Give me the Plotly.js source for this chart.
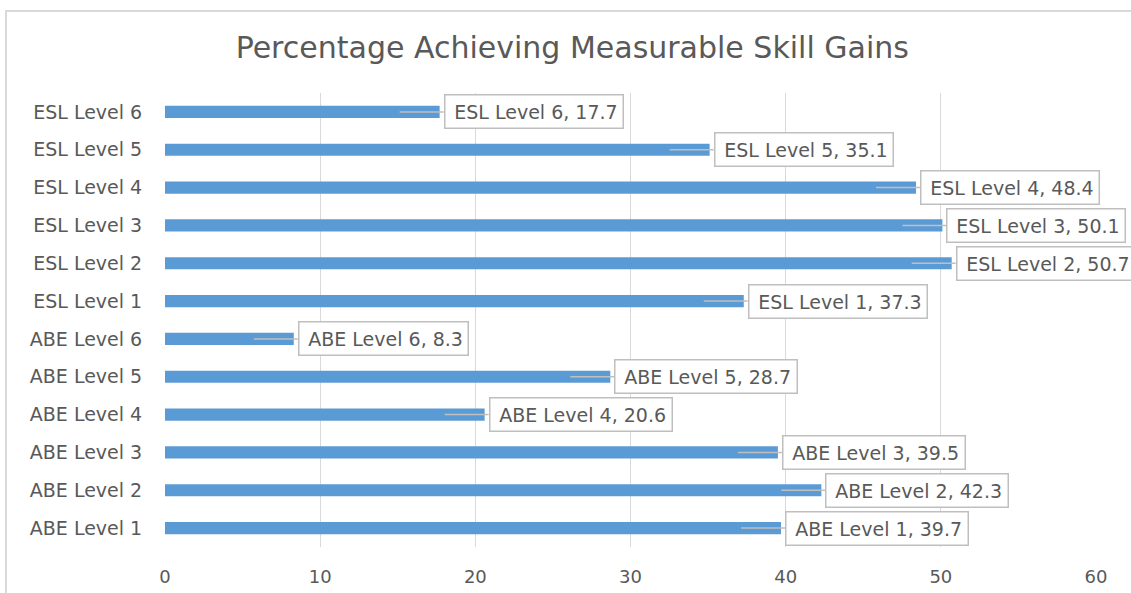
<!DOCTYPE html>
<html>
<head>
<meta charset="utf-8">
<script src="https://cdn.plot.ly/plotly-3.0.1.min.js"></script>
<style>
  html, body { margin: 0; padding: 0; overflow: hidden; background: #fff; width: 1131px; height: 593px; }
  #frame { position: absolute; left: 5px; top: 10px; width: 1300px; height: 800px; border: 2px solid #d9d9d9; box-sizing: border-box; }
  #chart { position: absolute; left: 0; top: 0; width: 1131px; height: 593px; }
</style>
</head>
<body>
<div id="frame"></div>
<div id="chart"></div>
<script>
var categories = ["ABE Level 1", "ABE Level 2", "ABE Level 3", "ABE Level 4", "ABE Level 5", "ABE Level 6",
                  "ESL Level 1", "ESL Level 2", "ESL Level 3", "ESL Level 4", "ESL Level 5", "ESL Level 6"];
var values = [39.7, 42.3, 39.5, 20.6, 28.7, 8.3, 37.3, 50.7, 50.1, 48.4, 35.1, 17.7];
var xTicks = [0, 10, 20, 30, 40, 50, 60];
var titleText = "Percentage Achieving Measurable Skill Gains";

var textColor = "#595959";
var fontFam = "'DejaVu Sans', sans-serif";

var trace = {
  type: "bar",
  orientation: "h",
  x: values,
  y: categories,
  marker: { color: "#5B9BD5" },
  hoverinfo: "none"
};

var annotations = categories.map(function (c, i) {
  return {
    x: values[i],
    y: c,
    xref: "x",
    yref: "y",
    text: "\u2009" + c + ", " + values[i],
    showarrow: true,
    arrowhead: 0,
    arrowwidth: 1.5,
    arrowcolor: "#bfbfbf",
    ax: 44,
    ay: 0,
    xshift: -40,
    xanchor: "left",
    yanchor: "middle",
    bgcolor: "#ffffff",
    bordercolor: "#bfbfbf",
    borderwidth: 1.5,
    borderpad: 5,
    font: { family: fontFam, size: 19, color: textColor }
  };
});

var layout = {
  width: 1131,
  height: 593,
  margin: { l: 165, r: 35, t: 93, b: 46 },
  paper_bgcolor: "rgba(0,0,0,0)",
  plot_bgcolor: "rgba(0,0,0,0)",
  title: {
    text: titleText,
    font: { family: fontFam, size: 30, color: textColor },
    x: 0.506,
    xanchor: "center",
    y: 0.92,
    yanchor: "middle"
  },
  bargap: 0.68,
  showlegend: false,
  xaxis: {
    range: [0, 60],
    tickvals: xTicks,
    ticktext: xTicks.map(String),
    showgrid: true,
    gridcolor: "#d9d9d9",
    gridwidth: 1,
    zeroline: false,
    showline: false,
    ticks: "outside",
    ticklen: 13,
    tickcolor: "rgba(0,0,0,0)",
    tickfont: { family: fontFam, size: 18, color: textColor },
    fixedrange: true
  },
  yaxis: {
    type: "category",
    showgrid: false,
    zeroline: false,
    showline: false,
    ticks: "outside",
    ticklen: 18,
    tickcolor: "rgba(0,0,0,0)",
    tickfont: { family: fontFam, size: 19, color: textColor },
    fixedrange: true
  },
  annotations: annotations
};

Plotly.newPlot("chart", [trace], layout, { staticPlot: true, displayModeBar: false });
</script>
</body>
</html>
